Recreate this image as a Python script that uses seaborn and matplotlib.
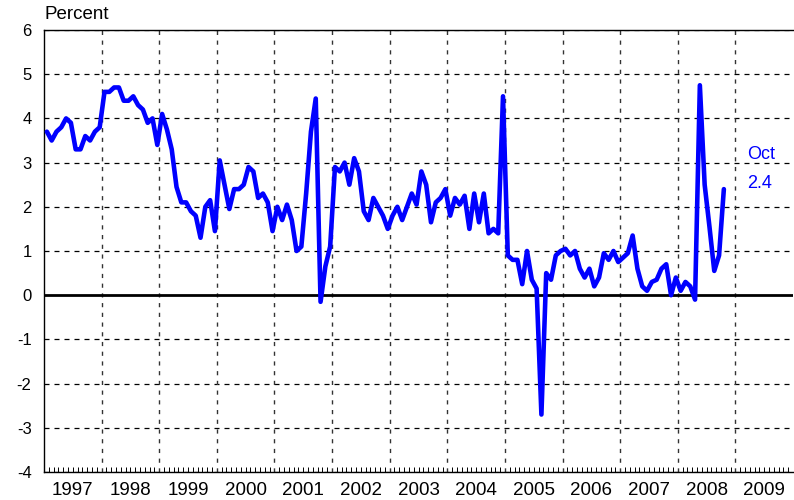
import numpy as np
import pandas as pd
import matplotlib
matplotlib.use("Agg")
import matplotlib.pyplot as plt
import matplotlib.transforms as mtransforms
from matplotlib.ticker import MultipleLocator
import seaborn as sns

# ---- data (monthly, percent) ----
years = list(range(1997, 2009))
v1997 = [3.7, 3.5, 3.7, 3.8, 4.0, 3.9, 3.3, 3.3, 3.6, 3.5, 3.7, 3.8]
v1998 = [4.6, 4.6, 4.7, 4.7, 4.4, 4.4, 4.5, 4.3, 4.2, 3.9, 4.0, 3.4]
v1999 = [4.1, 3.75, 3.3, 2.45, 2.1, 2.1, 1.9, 1.8, 1.3, 2.0, 2.15, 1.45]
v2000 = [3.05, 2.5, 1.95, 2.4, 2.4, 2.5, 2.9, 2.8, 2.2, 2.3, 2.1, 1.45]
v2001 = [2.0, 1.7, 2.05, 1.7, 1.0, 1.1, 2.3, 3.7, 4.45, -0.15, 0.65, 1.1]
v2002 = [2.9, 2.8, 3.0, 2.5, 3.1, 2.8, 1.9, 1.7, 2.2, 2.0, 1.8, 1.5]
v2003 = [1.8, 2.0, 1.7, 2.0, 2.3, 2.05, 2.8, 2.5, 1.65, 2.1, 2.2, 2.4]
v2004 = [1.8, 2.2, 2.05, 2.25, 1.5, 2.3, 1.65, 2.3, 1.4, 1.5, 1.4, 4.5]
v2005 = [0.9, 0.8, 0.8, 0.25, 1.0, 0.35, 0.15, -2.7, 0.5, 0.35, 0.9, 1.0]
v2006 = [1.05, 0.9, 1.0, 0.6, 0.4, 0.6, 0.2, 0.4, 0.95, 0.8, 1.0, 0.75]
v2007 = [0.85, 0.95, 1.35, 0.6, 0.2, 0.1, 0.3, 0.35, 0.6, 0.7, 0.0, 0.4]
v2008 = [0.1, 0.3, 0.2, -0.1, 4.75, 2.5, 1.55, 0.55, 0.9, 2.4]

series = [v1997, v1998, v1999, v2000, v2001, v2002, v2003, v2004,
          v2005, v2006, v2007, v2008]
year_labels = [str(y) for y in range(1997, 2010)]
yticks = [-4, -3, -2, -1, 0, 1, 2, 3, 4, 5, 6]
last_month_label = "Oct"
last_value_label = "2.4"

rows = []
for yr, vals in zip(years, series):
    for m, v in enumerate(vals, start=1):
        rows.append({"t": yr + (m - 0.4) / 12.0, "value": v})
df = pd.DataFrame(rows)

# ---- style ----
sns.set_theme(style="white")
plt.rcParams["font.family"] = ["Liberation Sans", "DejaVu Sans"]

fig = plt.figure(figsize=(7.94, 5.0), dpi=100)
ax = fig.add_axes([44 / 794, 28 / 500, 749 / 794, 442 / 500])

# grid
for y in yticks:
    if y == 0:
        continue
    ax.axhline(y, color="black", lw=0.9, ls=(0, (4, 4)), zorder=1)
for yr in range(1998, 2010):
    ax.axvline(yr, color="#333333", lw=1.0, ls=(0, (3, 4)), zorder=1)

ax.axhline(0, color="black", lw=2.0, zorder=2)

sns.lineplot(data=df, x="t", y="value", ax=ax, color="#0000FF",
             lw=3.3, zorder=3, legend=False)

ax.set_xlim(1997, 2010)
ax.set_ylim(-4, 6)
ax.set_yticks(yticks)
ax.set_yticklabels([str(t) for t in yticks], fontsize=12)
ax.tick_params(axis="y", length=0, pad=9, colors="black")

ax.xaxis.set_major_locator(MultipleLocator(1))
ax.xaxis.set_minor_locator(MultipleLocator(1 / 12))
ax.tick_params(axis="x", which="major", direction="in", length=6,
               width=0.8, color="black", labelbottom=False)
ax.tick_params(axis="x", which="minor", direction="in", length=3.5,
               width=0.7, color="black", bottom=True)
ax.set_xlabel("")
ax.set_ylabel("")

trans = mtransforms.blended_transform_factory(ax.transData, ax.transAxes)
for i, lab in enumerate(year_labels):
    ax.text(1997 + i + 0.5, -0.022, lab, transform=trans, ha="center",
            va="top", fontsize=13.5, color="black")

for side in ["left", "bottom", "top"]:
    ax.spines[side].set_visible(True)
    ax.spines[side].set_color("black")
    ax.spines[side].set_linewidth(1.0)
ax.spines["right"].set_visible(False)

ax.text(0.0, 1.034, "Percent", transform=ax.transAxes, ha="left",
        va="center", fontsize=13.5, color="black")

ax.text(2009.2, 3.19, last_month_label, ha="left", va="center",
        fontsize=13, color="#0000FF")
ax.text(2009.2, 2.53, last_value_label, ha="left", va="center",
        fontsize=13, color="#0000FF")

fig.savefig("out.png", dpi=100)
